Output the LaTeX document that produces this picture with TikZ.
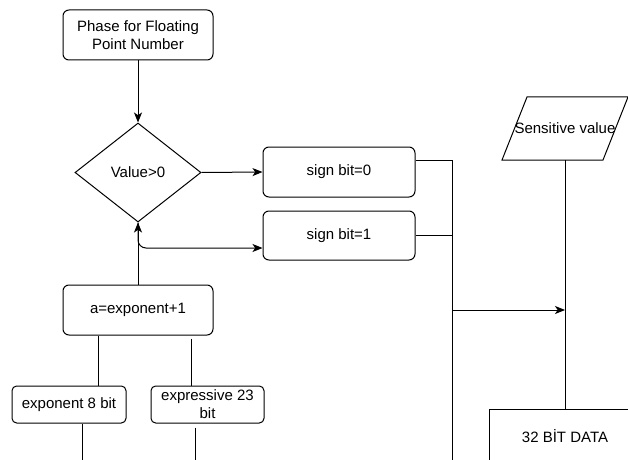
\documentclass[tikz,border=0pt]{standalone}
\usepackage{fontspec}
\setmainfont{Liberation Sans}
\usetikzlibrary{shapes.geometric,arrows.meta,calc}
\begin{document}
\begin{tikzpicture}[x=0.75pt,y=-0.75pt,line width=0.75pt,
  txt/.style={font=\fontsize{11.25}{13.5}\selectfont},
  box/.style={txt,draw,rounded corners=4.5pt,align=center,inner sep=0pt},
  sqbox/.style={txt,align=center,inner sep=0pt},
  dec/.style={txt,draw,shape=diamond,aspect=1.27,inner sep=0pt,minimum width=94.5pt,minimum height=74.25pt},
  arr/.style={-{Stealth[length=7.5pt,width=6pt,inset=2pt]}}
]
\fill[white] (0,0) rectangle (628,460);
\useasboundingbox (0,0) rectangle (628,460);
\clip (0,0) rectangle (628,460);

% nodes
\node[box,minimum width=112.5pt,minimum height=37.5pt] (start) at (138,35) {Phase for Floating\\Point Number};
\node[dec] (dec) at (138,172.5) {Value>0};
\node[box,minimum width=114pt,minimum height=37.5pt] (s0) at (339,172) {sign bit=0};
\node[box,minimum width=114pt,minimum height=36.75pt] (s1) at (339,235.5) {sign bit=1};
\node[box,minimum width=112.5pt,minimum height=37.5pt] (a) at (138,310) {a=exponent+1};
\node[box,minimum width=85.5pt,minimum height=27.75pt,rounded corners=3.5pt] (e8) at (69,404.5) {exponent 8 bit};
\node[box,minimum width=84.75pt,minimum height=27.75pt,rounded corners=3.5pt] (e23) at (207.5,404.5) {expressive 23\\bit};
\node[sqbox,minimum width=112.5pt,minimum height=39pt] (data) at (565,436) {32 BİT DATA};

% parallelogram "Sensitive value"
\coordinate (pbl) at (502,160);
\coordinate (ptl) at (527,97);
\coordinate (ptr) at (628,97);
\coordinate (pbr) at (603,160);
\draw (pbl) -- (ptl) -- (ptr) -- (pbr) -- cycle;
\node[txt,inner sep=0pt] (sens) at (565,128.5) {Sensitive value};
\coordinate (sensb) at (565,160);

\draw (data.south west) -- (data.north west) -- (data.north -| ptr);

% bus coordinates
\coordinate (bus) at (452,160);
\coordinate (busend) at (452,470);

% connectors
\draw[arr] (start.south) -- (dec.north);
\draw[arr] (dec.east) -- (s0.west);
\draw[arr] (a.north) -- (dec.south);
\draw[arr,rounded corners=6pt] (dec.south) |- ($(s1.west)+(0,12.5)$);

\draw ($(s0.east)+(0,-12)$) -- (bus) -- (busend);
\draw (s1.east) -- (s1.east -| bus);
\draw[arr] ($(bus)+(0,150)$) -- ($(sensb)+(0,150)$);
\draw (sensb) -- (data.north);

\draw ($(a.south)+(-40,0)$) -- ($(e8.north)+(29,0)$);
\draw ($(a.south)+(53,3)$) -- ($(e23.north)+(-16.5,0)$);
\draw ($(e8.south)+(13,0)$) -- ++(0,50);
\draw ($(e23.south)+(-12.5,4)$) -- ++(0,50);
\end{tikzpicture}
\end{document}
